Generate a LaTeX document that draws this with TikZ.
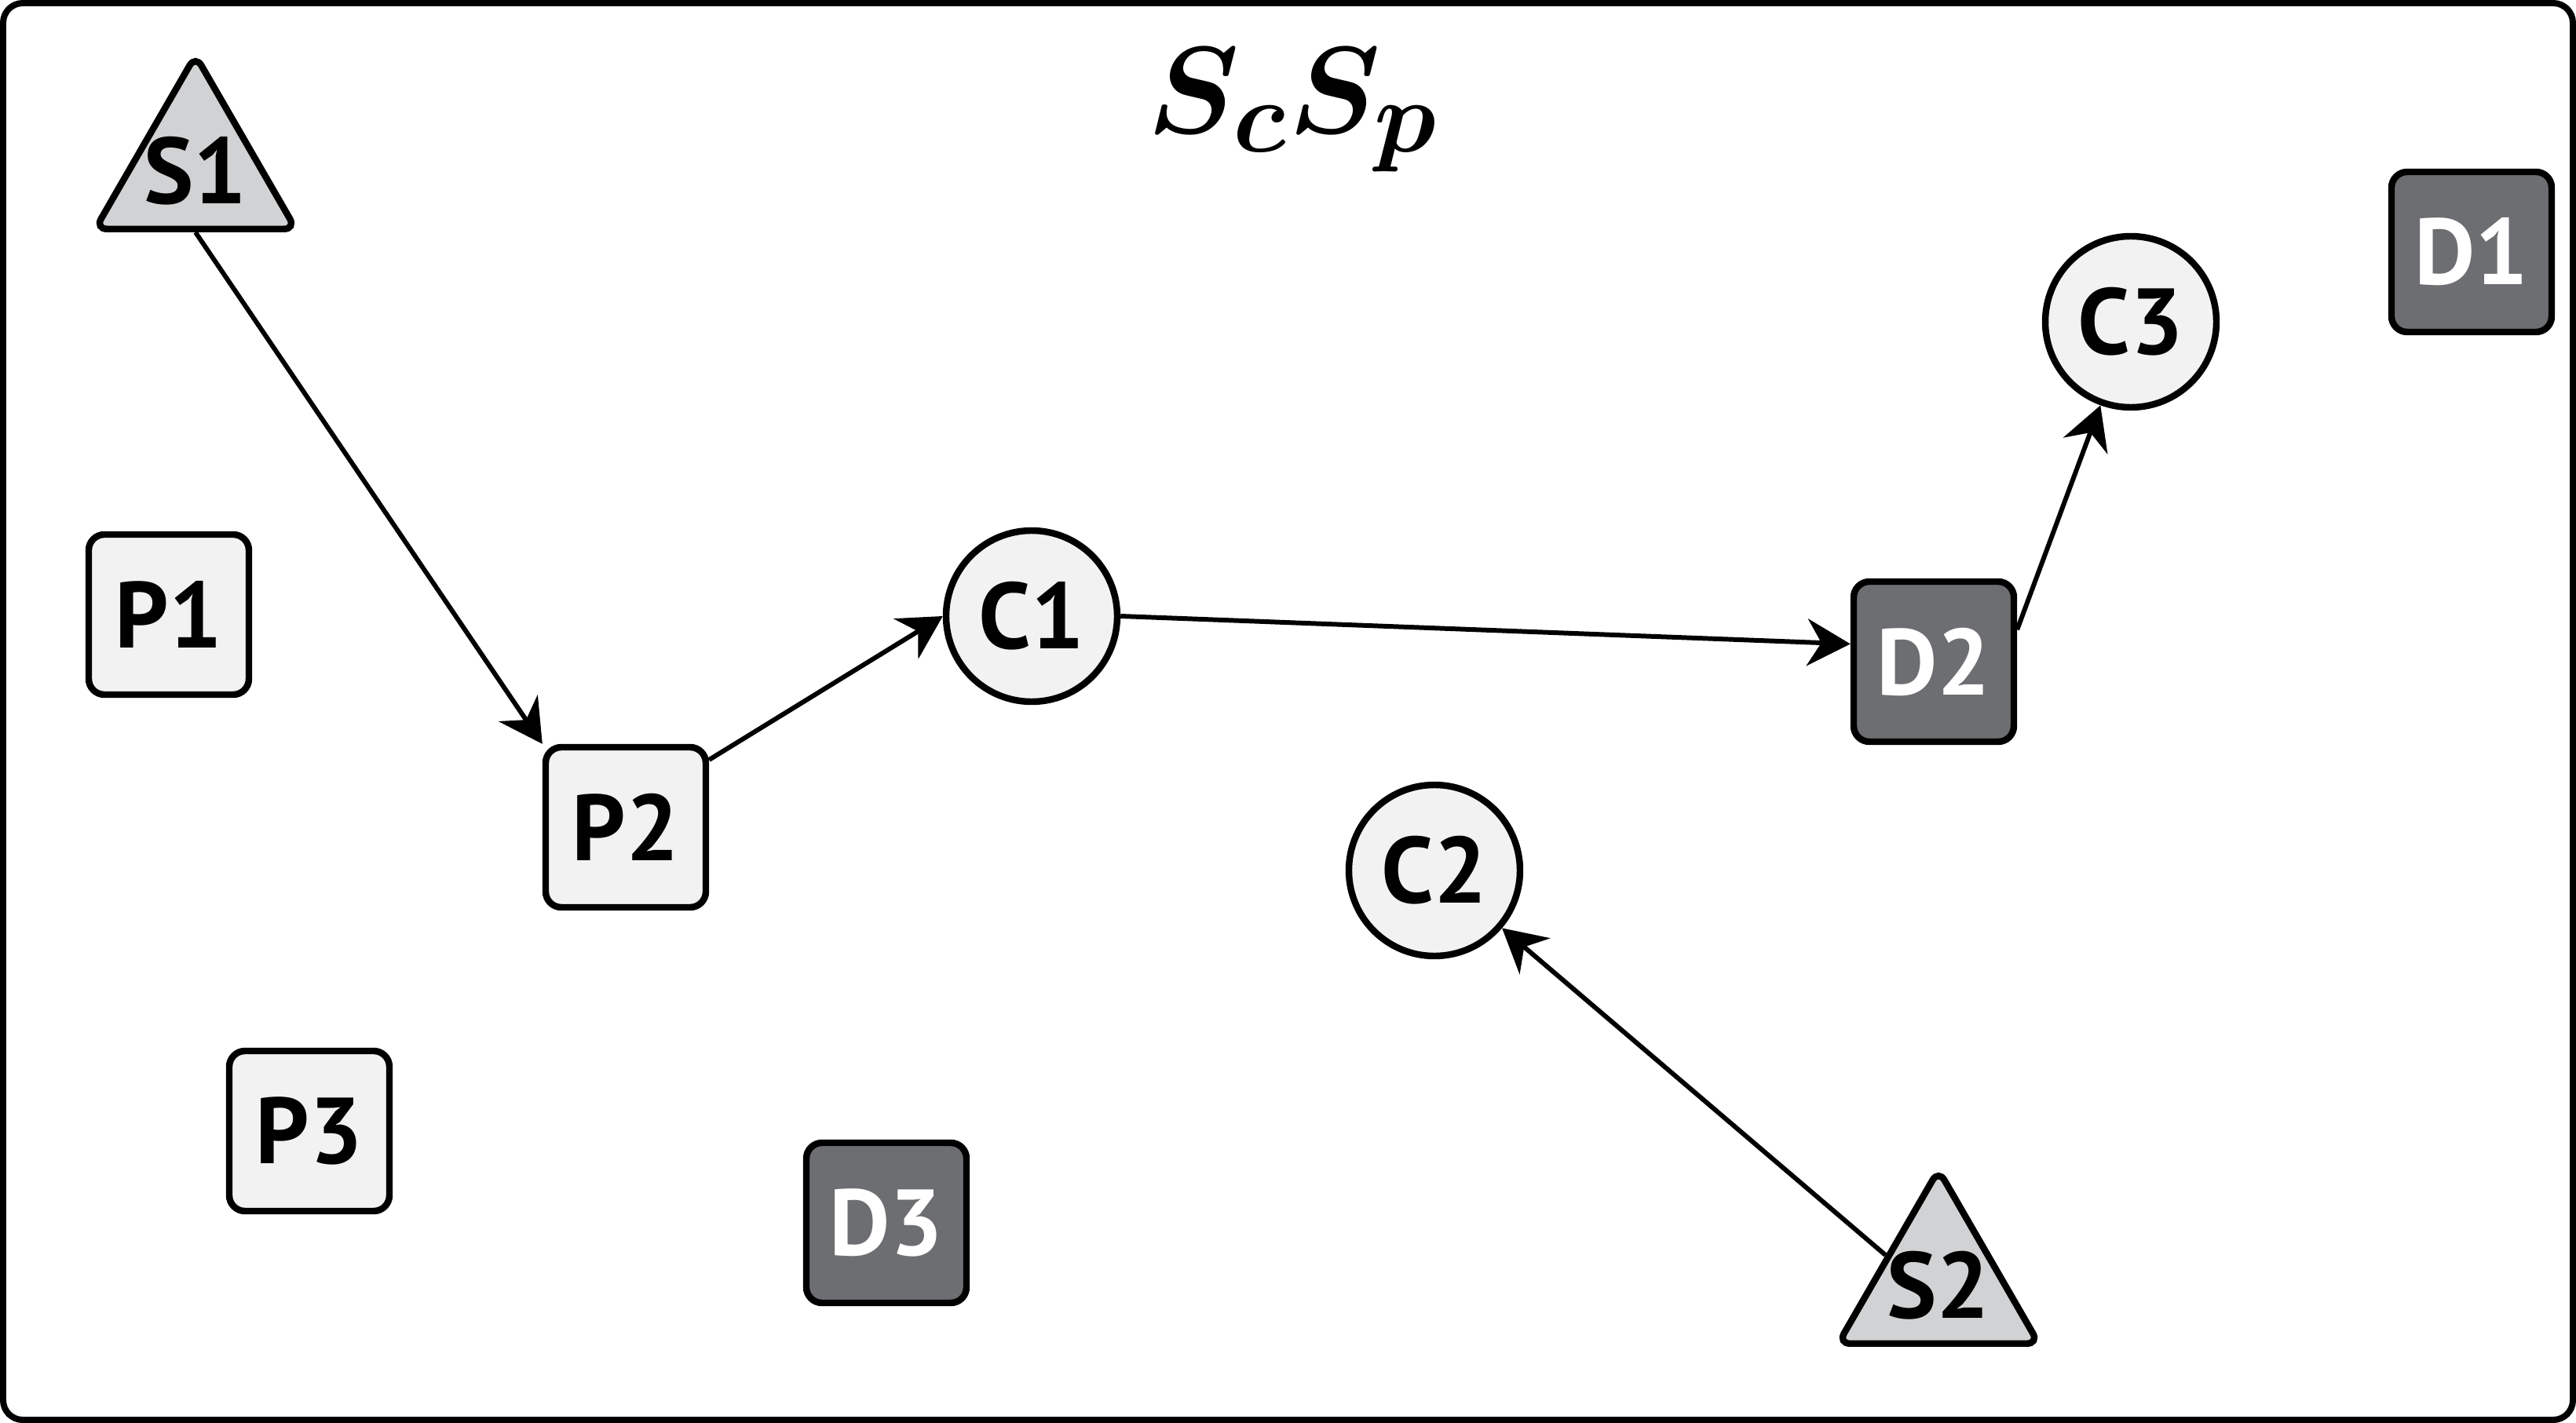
\documentclass[tikz,border=0pt]{standalone}
\usepackage{fontspec}
\setsansfont{PT Sans}
\usepackage{bm}
\definecolor{lightnode}{HTML}{F2F2F2}
\definecolor{sourcegray}{HTML}{D1D2D4}
\definecolor{darknode}{HTML}{6D6E71}
\usetikzlibrary{shapes.geometric, arrows.meta}
\tikzset{
	nodefont/.style={
			font={\sffamily\bfseries\fontsize{34}{40}\selectfont}
		},
	defaultnode/.style={
			nodefont,
			draw=black,
			line width=2.4pt,
			fill=lightnode,
			inner sep=0pt
		},
	boxnode/.style={
			defaultnode,
			rectangle,
			rounded corners=0.2cm,
			minimum size=2.04cm
		},
	darkbox/.style={
			boxnode,
			fill=darknode,
			text=white
		},
	circlenode/.style={
			defaultnode,
			circle,
			minimum size=2.18cm
		},
	sourcenode/.style={
			defaultnode,
			regular polygon,
			regular polygon sides=3,
			minimum size=2.95cm,
			rounded corners=0.15cm,
			fill=sourcegray,
			label={[nodefont, inner sep=0pt]center:#1}
		},
	flow/.style={
			line width=1.7pt,
			-{Stealth[length=5.5mm, width=6mm, inset=1.8mm]}
		}
}

\begin{document}
\begin{tikzpicture}
\useasboundingbox (0,0) rectangle (32.81,-18.13);
\draw[line width=0.08cm, rounded corners=0.25cm] (0.04,-0.04) rectangle (32.77,-18.09);

\node (title) at (16.47,-1.40) {\scalebox{1.8}{\Huge\boldmath$S_cS_p$}};

\node[sourcenode=S1] (s1) at (2.49,-2.18) {};
\node[sourcenode=S2] (s2) at (24.69,-16.38) {};

\node[boxnode] (p1) at (2.15,-7.83) { P1 };
\node[boxnode] (p2) at (7.97,-10.54) { P2 };
\node[boxnode] (p3) at (3.94,-14.41) { P3 };

\node[darkbox] (d1) at (31.48,-3.21) { D1 };
\node[darkbox] (d2) at (24.63,-8.43) { D2 };
\node[darkbox] (d3) at (11.29,-15.58) { D3 };

\node[circlenode] (c1) at (13.14,-7.85) { C1 };
\node[circlenode] (c2) at (18.27,-11.09) { C2 };
\node[circlenode] (c3) at (27.14,-4.10) { C3 };

\draw[flow] (s1.side 2) -- (p2.north west);
\draw[flow] (p2.39) -- (c1.west);
\draw[flow] (c1.east) -- (d2.168);
\draw[flow] (d2.21) -- (c3.250);
\draw[flow] (s2.side 1) -- (c2);
\end{tikzpicture}
\end{document}
